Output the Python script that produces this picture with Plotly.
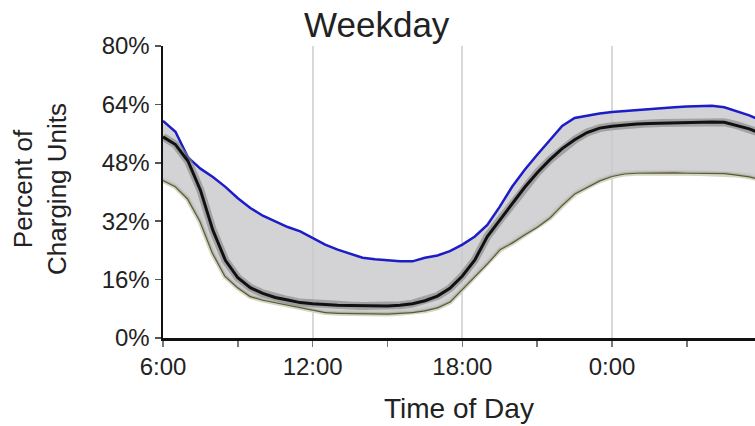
import plotly.graph_objects as go

# Time of day in hours after midnight (values past 24 wrap to the next day)
hours = [6.0, 6.5, 7.0, 7.5, 8.0, 8.5, 9.0, 9.5, 10.0, 10.5, 11.0, 11.5,
         12.0, 12.5, 13.0, 13.5, 14.0, 14.5, 15.0, 15.5, 16.0, 16.5, 17.0, 17.5,
         18.0, 18.5, 19.0, 19.5, 20.0, 20.5, 21.0, 21.5, 22.0, 22.5, 23.0, 23.5,
         24.0, 24.5, 25.0, 25.5, 26.0, 26.5, 27.0, 27.5, 28.0, 28.5, 29.0, 29.5, 30.0]

upper = [59.5, 56.5, 49.5, 46.4, 44.1, 41.4, 38.3, 35.6, 33.5, 32.0, 30.4, 29.2,
         27.4, 25.6, 24.2, 23.0, 22.0, 21.6, 21.3, 21.0, 21.0, 22.0, 22.6, 23.8,
         25.6, 27.8, 31.0, 36.0, 41.5, 46.1, 50.2, 54.3, 58.1, 60.3, 61.0, 61.5,
         61.9, 62.2, 62.5, 62.8, 63.0, 63.2, 63.4, 63.5, 63.6, 63.2, 62.0, 61.0, 59.5]

median = [55.1, 53.0, 48.5, 40.5, 29.5, 21.3, 16.5, 13.8, 12.2, 11.1, 10.4, 9.7,
          9.4, 9.1, 9.0, 8.9, 8.8, 8.8, 8.8, 9.0, 9.4, 10.2, 11.5, 13.6,
          17.0, 21.4, 27.8, 32.3, 36.8, 41.3, 45.3, 48.8, 51.9, 54.3, 56.3, 57.5,
          58.0, 58.4, 58.6, 58.8, 58.9, 59.0, 59.1, 59.2, 59.2, 59.1, 58.3, 57.3, 56.0]

lower = [43.3, 41.6, 38.2, 32.0, 23.3, 17.0, 13.9, 11.5, 10.5, 9.8, 9.2, 8.3,
         7.6, 7.1, 6.9, 6.8, 6.7, 6.7, 6.7, 6.9, 7.1, 7.6, 8.4, 10.0,
         13.5, 17.0, 20.5, 24.3, 26.2, 28.4, 30.5, 33.0, 36.5, 39.6, 41.5, 43.2,
         44.4, 45.1, 45.3, 45.4, 45.5, 45.4, 45.3, 45.2, 45.2, 45.2, 44.8, 44.3, 43.5]

x_tick_vals = [6, 12, 18, 24]
x_tick_text = ["6:00", "12:00", "18:00", "0:00"]
x_minor_vals = [9, 15, 21, 27]
y_tick_vals = [0, 16, 32, 48, 64, 80]
y_tick_text = ["0%", "16%", "32%", "48%", "64%", "80%"]

FONT = "Liberation Sans, Arial, sans-serif"

fig = go.Figure()
# lower bound line (olive) with light halo
fig.add_trace(go.Scatter(x=hours, y=lower, mode="lines",
                         line=dict(color="#d6d6c4", width=6), hoverinfo="skip"))
fig.add_trace(go.Scatter(x=hours, y=lower, mode="lines",
                         line=dict(color="#5a5a36", width=2.4)))
# upper bound with gray fill down to the lower bound
fig.add_trace(go.Scatter(x=hours, y=lower, mode="lines",
                         line=dict(color="rgba(0,0,0,0)", width=0), hoverinfo="skip"))
fig.add_trace(go.Scatter(x=hours, y=upper, mode="lines", fill="tonexty",
                         fillcolor="rgba(200,200,202,0.8)",
                         line=dict(color="#1c1cc8", width=2.5)))
# median line with dark halo
fig.add_trace(go.Scatter(x=hours, y=median, mode="lines",
                         line=dict(color="rgba(130,130,130,0.6)", width=8), hoverinfo="skip"))
fig.add_trace(go.Scatter(x=hours, y=median, mode="lines",
                         line=dict(color="#111111", width=3)))

fig.update_layout(
    width=755, height=426,
    margin=dict(l=163, r=0, t=46, b=88),
    paper_bgcolor="white", plot_bgcolor="white",
    showlegend=False,
    font=dict(family=FONT, color="#222222", size=24),
    title=dict(text="Weekday", x=0.499, xref="container", xanchor="center",
               y=0.941, yref="container", yanchor="middle",
               font=dict(family=FONT, size=35, color="#222222")),
    xaxis=dict(range=[6, 29.73], tickmode="array", tickvals=x_tick_vals,
               ticktext=x_tick_text, showgrid=True, gridcolor="#d9d9d9", gridwidth=2,
               zeroline=False, showline=True, linecolor="#111111", linewidth=2.5,
               ticks="outside", ticklen=6, tickwidth=1.5, tickcolor="#777777",
               tickfont=dict(size=24, color="#222222"),
               minor=dict(tickmode="array", tickvals=x_minor_vals, ticks="outside",
                          ticklen=6, tickwidth=1.5, tickcolor="#777777", showgrid=False)),
    yaxis=dict(range=[0, 80], tickmode="array", tickvals=y_tick_vals,
               ticktext=y_tick_text, showgrid=False, zeroline=False,
               showline=True, linecolor="#111111", linewidth=2.5,
               ticks="outside", ticklen=6, tickwidth=1.5, tickcolor="#555555",
               tickfont=dict(size=24, color="#222222")),
    annotations=[
        dict(text="Percent of<br>Charging Units", xref="paper", yref="paper",
             x=-0.208, y=0.51, xanchor="center", yanchor="middle", textangle=-90,
             showarrow=False, font=dict(family=FONT, size=26, color="#222222")),
        dict(text="Time of Day", xref="paper", yref="paper",
             x=0.5, y=-0.243, xanchor="center", yanchor="middle",
             showarrow=False, font=dict(family=FONT, size=28, color="#222222")),
    ],
)

fig.write_html("out.html",
               config={"displayModeBar": False, "staticPlot": True},
               post_script="document.body.style.margin='0';document.body.style.padding='0';")
